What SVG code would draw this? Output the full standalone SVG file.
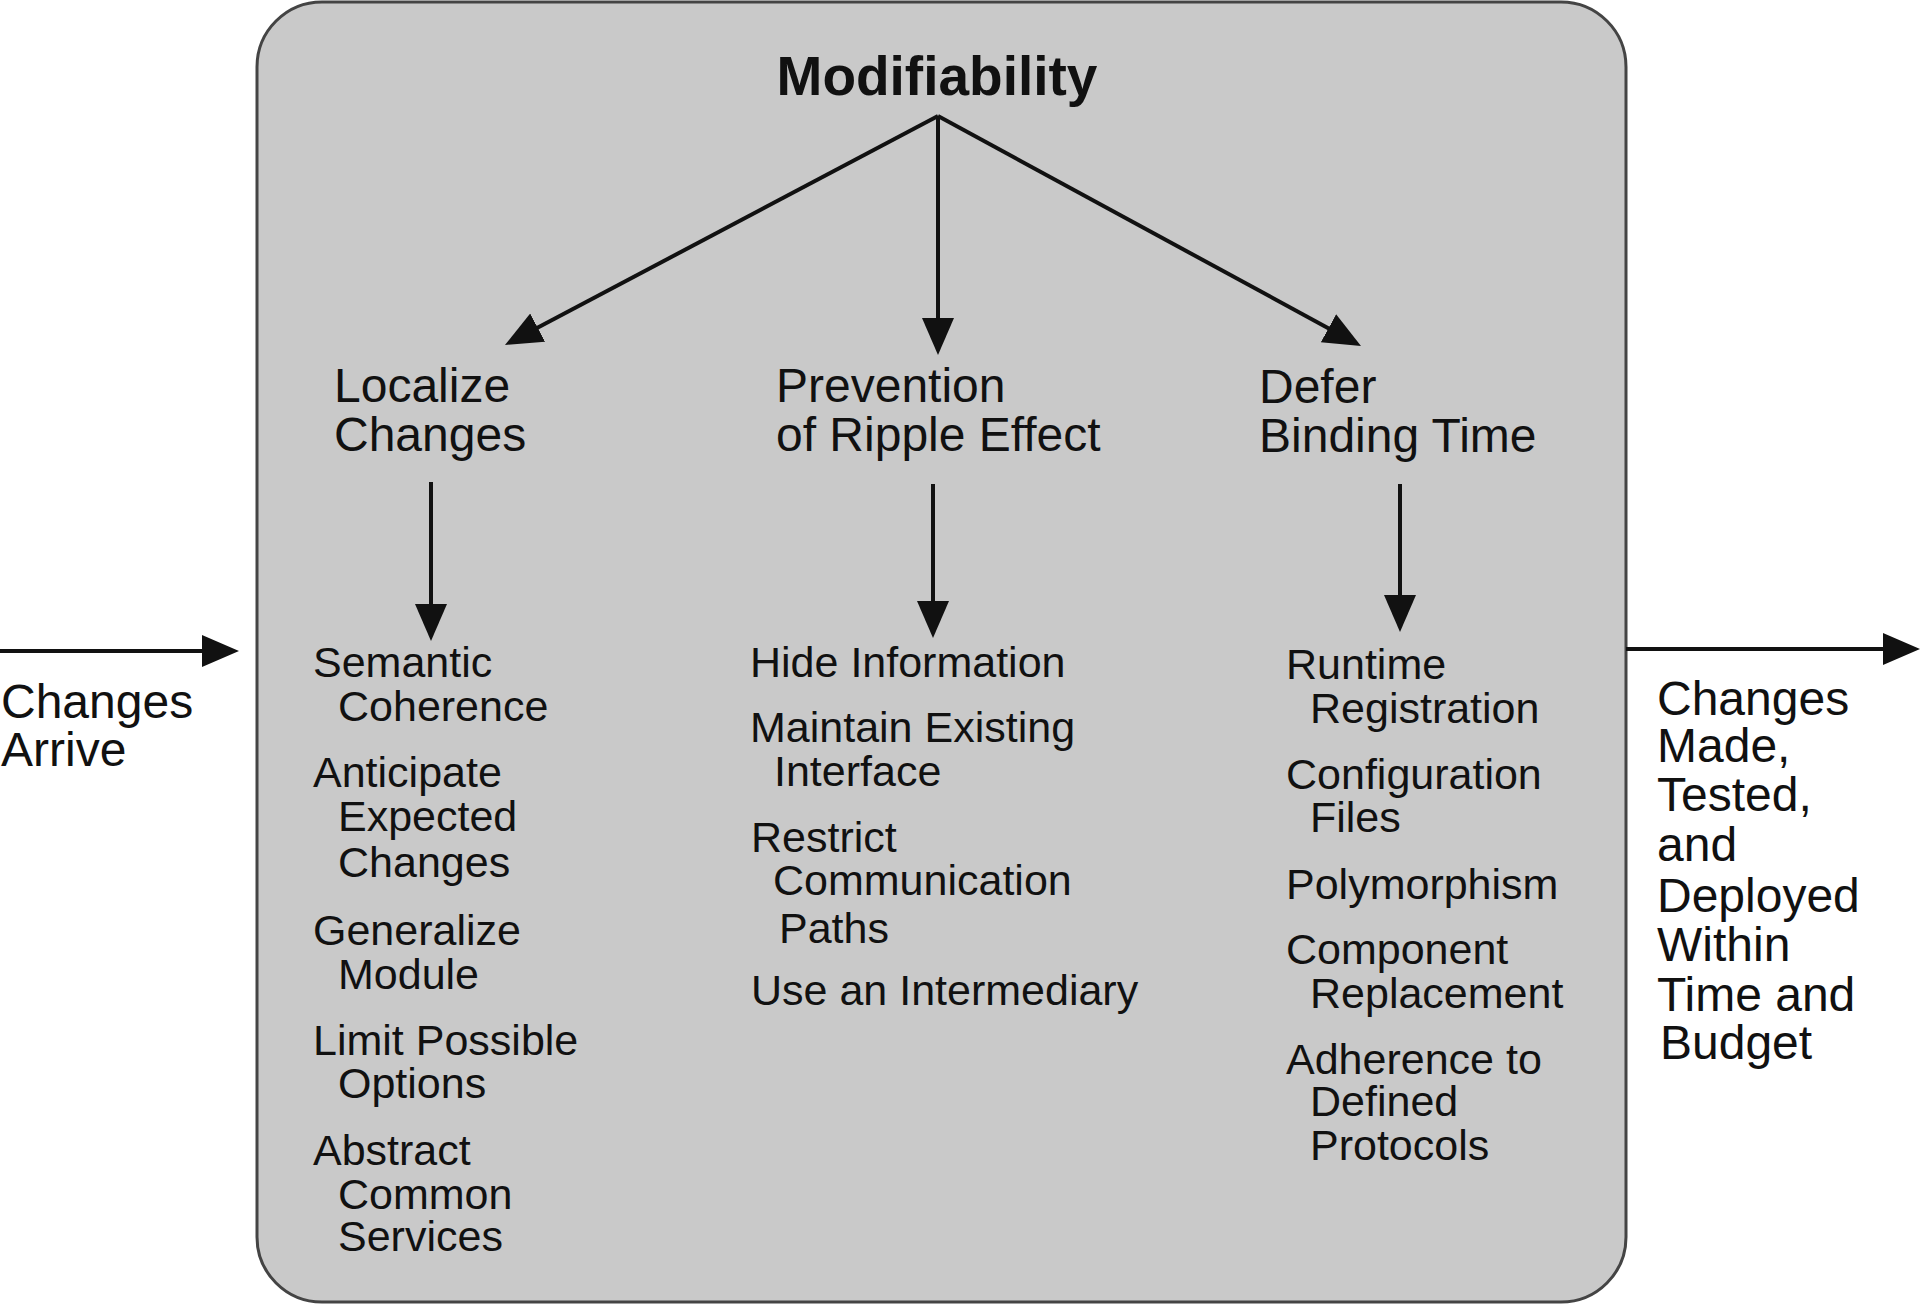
<svg xmlns="http://www.w3.org/2000/svg" width="1920" height="1304" viewBox="0 0 1920 1304">
<style>
text{font-family:"Liberation Sans",Arial,sans-serif;fill:#111}
.title{font-size:55px;font-weight:bold}
.l2{font-size:48px}
.l3{font-size:43px}
.out{font-size:48px}
.conn{stroke:#111;stroke-width:4;fill:none}
</style>
<defs>
<marker id="ah" markerUnits="userSpaceOnUse" markerWidth="40" markerHeight="34" refX="27" refY="16" orient="auto">
<path d="M0,0 L37,16 L0,32 z" fill="#111"/>
</marker>
</defs>
<rect width="1920" height="1304" fill="#fff"/>
<g id="container">
<rect x="257" y="2" width="1369" height="1300" rx="65" ry="65" fill="#c9c9c9" stroke="#444" stroke-width="3"/>
</g>
<g id="connectors">
<line class="conn" x1="938" y1="116" x2="513.8" y2="340.3" marker-end="url(#ah)"/>
<line class="conn" x1="938" y1="116" x2="938" y2="345" marker-end="url(#ah)"/>
<line class="conn" x1="938" y1="116" x2="1352.2" y2="341.2" marker-end="url(#ah)"/>
<line class="conn" x1="431" y1="482" x2="431" y2="631" marker-end="url(#ah)"/>
<line class="conn" x1="933" y1="484" x2="933" y2="628" marker-end="url(#ah)"/>
<line class="conn" x1="1400" y1="484" x2="1400" y2="622" marker-end="url(#ah)"/>
<line class="conn" x1="0" y1="651" x2="229" y2="651" marker-end="url(#ah)"/>
<line class="conn" x1="1626" y1="649" x2="1910" y2="649" marker-end="url(#ah)"/>
</g>
<g id="modifiability"><text class="title" x="937" y="95" text-anchor="middle">Modifiability</text></g>
<g id="localize"><text class="l2" x="334" y="402">Localize<tspan x="334" y="451">Changes</tspan></text></g>
<g id="prevention"><text class="l2" x="776" y="402">Prevention<tspan x="776" y="451">of Ripple Effect</tspan></text></g>
<g id="defer"><text class="l2" x="1259" y="403">Defer<tspan x="1259" y="452">Binding Time</tspan></text></g>
<g id="localize-tactics"><text class="l3">
<tspan x="313" y="677">Semantic</tspan>
<tspan x="338" y="721">Coherence</tspan>
<tspan x="313" y="787">Anticipate</tspan>
<tspan x="338" y="831">Expected</tspan>
<tspan x="338" y="877">Changes</tspan>
<tspan x="313" y="945">Generalize</tspan>
<tspan x="338" y="989">Module</tspan>
<tspan x="313" y="1055">Limit Possible</tspan>
<tspan x="338" y="1098">Options</tspan>
<tspan x="313" y="1165">Abstract</tspan>
<tspan x="338" y="1209">Common</tspan>
<tspan x="338" y="1251">Services</tspan>
</text></g>
<g id="prevention-tactics"><text class="l3">
<tspan x="750" y="677">Hide Information</tspan>
<tspan x="750" y="742">Maintain Existing</tspan>
<tspan x="774" y="786">Interface</tspan>
<tspan x="751" y="852">Restrict</tspan>
<tspan x="773" y="895">Communication</tspan>
<tspan x="779" y="943">Paths</tspan>
<tspan x="751" y="1005">Use an Intermediary</tspan>
</text></g>
<g id="defer-tactics"><text class="l3">
<tspan x="1286" y="679">Runtime</tspan>
<tspan x="1310" y="723">Registration</tspan>
<tspan x="1286" y="789">Configuration</tspan>
<tspan x="1310" y="832">Files</tspan>
<tspan x="1286" y="899">Polymorphism</tspan>
<tspan x="1286" y="964">Component</tspan>
<tspan x="1310" y="1008">Replacement</tspan>
<tspan x="1286" y="1074">Adherence to</tspan>
<tspan x="1310" y="1116">Defined</tspan>
<tspan x="1310" y="1160">Protocols</tspan>
</text></g>
<g id="changes-arrive"><text class="out" x="1" y="718">Changes<tspan x="1" y="766">Arrive</tspan></text></g>
<g id="changes-made"><text class="out">
<tspan x="1657" y="715">Changes</tspan>
<tspan x="1657" y="762">Made,</tspan>
<tspan x="1657" y="811">Tested,</tspan>
<tspan x="1657" y="861">and</tspan>
<tspan x="1657" y="912">Deployed</tspan>
<tspan x="1657" y="961">Within</tspan>
<tspan x="1657" y="1011">Time and</tspan>
<tspan x="1660" y="1059">Budget</tspan>
</text></g>
</svg>
